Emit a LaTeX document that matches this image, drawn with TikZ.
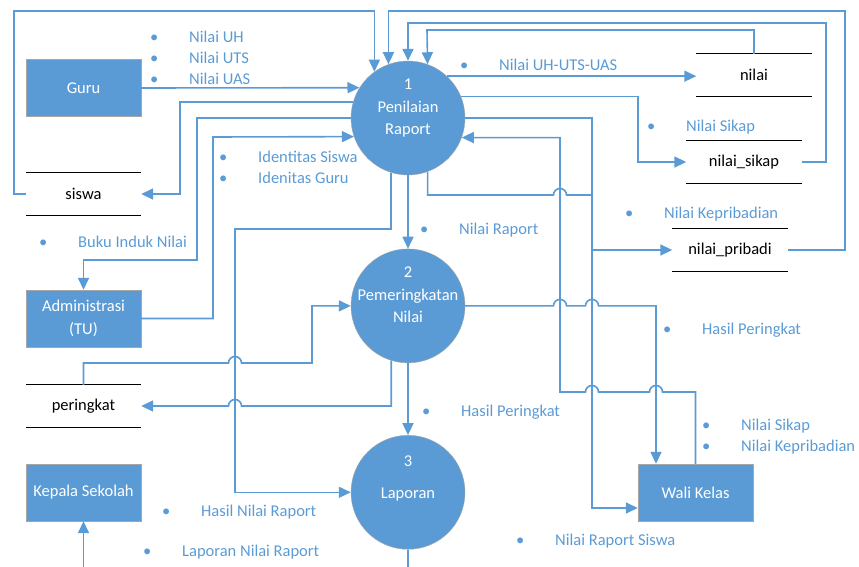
\documentclass[tikz,border=0pt]{standalone}
\usepackage{fontspec}
\setmainfont{Carlito}
\usetikzlibrary{arrows.meta, positioning}
\definecolor{dfdblue}{HTML}{5B9BD5}
\definecolor{dfdedge}{HTML}{A6A6A6}
\newcommand{\lblbul}{\makebox[6pt][c]{\textbullet}\hspace{32pt}}

\begin{document}
\begin{tikzpicture}[
		x=1pt, y=-1pt,
		node distance=73.5pt,
		every node/.style={font=\fontsize{16.5}{22.5}\selectfont},
		entity/.style={draw=dfdedge, fill=dfdblue, text=white, minimum width=115pt, minimum height=57pt, inner sep=2pt, align=center},
		process/.style={circle, draw=dfdedge, fill=dfdblue, text=white, minimum size=114pt, inner sep=-14pt, align=center},
		store/.style={minimum width=115pt, minimum height=42pt, inner sep=0pt,
			append after command={\pgfextra{\let\storenode=\tikzlastnode}
				(\storenode.north west) edge[draw=black, line width=1.1pt] (\storenode.north east)
				(\storenode.south west) edge[draw=black, line width=1.1pt] (\storenode.south east)}},
		flow/.style={draw=dfdblue, line width=1.6pt, -{Triangle[length=12pt, width=11pt]}},
		lbl/.style={text=dfdblue, anchor=west, inner sep=0pt}
	]
	\useasboundingbox (0,0) rectangle (859,567);
	\clip (0,0) rectangle (859,567);

	% entities
	\node[entity] (guru) at (83.5,88) {Guru};
	\node[entity] (admin) at (83.5,318.5) {Administrasi\\(TU)};
	\node[entity] (kepala) at (83.5,492.5) {Kepala Sekolah};
	\node[entity] (wali) at (695.5,492.5) {Wali Kelas};

	% processes
	\node[process] (p1) at (408,118) {1\\Penilaian\\Raport\\\mbox{}};
	\node[process, below=of p1] (p2) {2\\Pemeringkatan\\Nilai\\\mbox{}};
	\node[process, below=72pt of p2] (p3) {3\\[10pt]Laporan\\[8pt]\mbox{}};

	% data stores
	\node[store] (siswa) at (83.5,194) {siswa};
	\node[store] (peringkat) at (83.5,406) {peringkat};
	\node[store] (nilai) at (754,75) {nilai};
	\node[store] (nilaisikap) at (744,162) {nilai\_sikap};
	\node[store] (nilaipribadi) at (730,250) {nilai\_pribadi};

	% flows into Penilaian Raport
	\draw[flow] (guru.east) -- (p1.148.2);
	\draw[flow] (siswa.west) -| (14,11) -| (p1.126.6);
	\draw[flow] (admin.east) -| (213,137) -- (p1.199.5);
	\draw[flow] (nilai.north) |- (427,30) -- (p1.70.5);
	\draw[flow] (nilaisikap.east) -| (826,23) -| (p1.north);
	\draw[flow] (nilaipribadi.east) -| (845,11) -| (p1.110.5);
	\draw[flow] (wali.north) |- (662.5,392) arc[start angle=0, end angle=180, radius=6.5pt]
		-- (598.5,392) arc[start angle=0, end angle=180, radius=6.5pt] -- (560,392) |- (p1.340.5);

	% flows out of Penilaian Raport
	\draw[flow] (p1.164.7) -| (180,194) -- (siswa.east);
	\draw[flow] (p1.west) -| (197,260) -| (admin.north);
	\draw[flow] (p1.47.5) -- (p1.47.5 -| nilai.west);
	\draw[flow] (p1.22.7) -| (638,162) -- (nilaisikap.west);
	\draw[flow] (p1.east) -| (592,250) -- (nilaipribadi.west);
	\draw[flow] (p1.290.5) |- (553.5,195) arc[start angle=180, end angle=0, radius=6.5pt]
		-| (592,508) -- (wali.west |- 592,508);
	\draw[flow] (p1.south) -- (p2.north);
	\draw[flow] (p1.253.7) |- (235,229) |- (p3.west);

	% Pemeringkatan Nilai
	\draw[flow] (peringkat.north) |- (228.5,363) arc[start angle=180, end angle=0, radius=6.5pt]
		-| (312,0 |- p2.west) -- (p2.west);
	\draw[flow] (p2.253.7) |- (241.5,406) arc[start angle=0, end angle=180, radius=6.5pt]
		-- (peringkat.east);
	\draw[flow] (p2.east) -- (553.5,0 |- p2.east) arc[start angle=180, end angle=0, radius=6.5pt]
		-- (585.5,0 |- p2.east) arc[start angle=180, end angle=0, radius=6.5pt] -| (656,0 |- wali.north);
	\draw[flow] (p2.south) -- (p3.north);

	% Laporan
	\draw[flow] (p3.south) |- (83.5,585) -- (kepala.south);

	% flow labels
	\node[lbl] (luh) at (151,37) {\lblbul Nilai UH};
	\node[lbl] (luts) at (151,58) {\lblbul Nilai UTS};
	\node[lbl] (luas) at (151,79) {\lblbul Nilai UAS};
	\node[lbl] (lidsiswa) at (220,157) {\lblbul Identitas Siswa};
	\node[lbl] (lidguru) at (220,178) {\lblbul Idenitas Guru};
	\node[lbl] (lbuku) at (40,242) {\lblbul Buku Induk Nilai};
	\node[lbl] (lnilai) at (461,65) {\lblbul Nilai UH-UTS-UAS};
	\node[lbl] (lsikap) at (648,127) {\lblbul Nilai Sikap};
	\node[lbl] (lpribadi) at (626,214) {\lblbul Nilai Kepribadian};
	\node[lbl] (lraport) at (421,230) {\lblbul Nilai Raport};
	\node[lbl] (lperingkatw) at (664,330) {\lblbul Hasil Peringkat};
	\node[lbl] (lperingkat) at (423,412) {\lblbul Hasil Peringkat};
	\node[lbl] (lwsikap) at (703,426) {\lblbul Nilai Sikap};
	\node[lbl] (lwpribadi) at (703,447) {\lblbul Nilai Kepribadian};
	\node[lbl] (lhasil) at (163,512) {\lblbul Hasil Nilai Raport};
	\node[lbl] (llaporan) at (144,552) {\lblbul Laporan Nilai Raport};
	\node[lbl] (lsiswa) at (517,541) {\lblbul Nilai Raport Siswa};
\end{tikzpicture}
\end{document}
